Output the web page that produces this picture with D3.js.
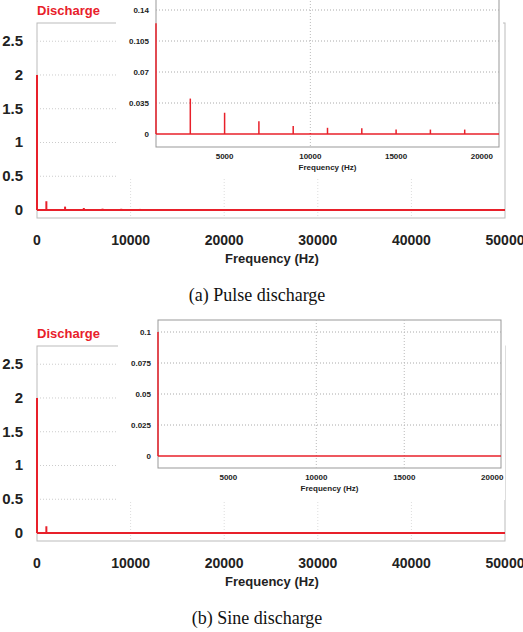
<!DOCTYPE html>
<html><head><meta charset="utf-8">
<script src="https://cdn.jsdelivr.net/npm/d3@7"></script>
<style>body{margin:0;background:#fff}text{font-family:Arial,"Liberation Sans",sans-serif}</style>
</head><body><svg id="c" width="523" height="632"></svg>
<script>
// pulse discharge spectrum (Hz, amplitude)
var pulseFreq = [0, 1000, 3000, 5000, 7000, 9000, 11000, 13000, 15000, 17000, 19000, 21000, 23000, 25000, 27000];
var pulseAmp  = [2.0, 0.13, 0.05, 0.03, 0.02, 0.018, 0.016, 0.015, 0.015, 0.014, 0.014, 0.013, 0.013, 0.013, 0.013];
var pulseInsetFreq = [1000, 3000, 5000, 7000, 9000, 10000, 11000, 13000, 15000, 17000, 19000];
var pulseInsetAmp  = [0.125, 0.04, 0.024, 0.0145, 0.009, 0.001, 0.007, 0.0065, 0.005, 0.005, 0.005];
// sine discharge spectrum
var sineFreq = [0, 1000];
var sineAmp  = [2.0, 0.1];
var sineInsetFreq = [1000];
var sineInsetAmp  = [0.1];

var mainXTicks = [0, 10000, 20000, 30000, 40000, 50000];
var mainYTicks = [0, 0.5, 1, 1.5, 2, 2.5];
var pulseInsetYTicks = [0, 0.035, 0.07, 0.105, 0.14];
var sineInsetYTicks = [0, 0.025, 0.05, 0.075, 0.1];
var insetXTicks = [5000, 10000, 15000, 20000];

var svg = d3.select("#c");
var red = "#e8202a";

function spikes(g, x, y, fr, am, w) {
  g.selectAll(null).data(fr).enter().append("line")
    .attr("x1", function(d){return x(d);}).attr("x2", function(d){return x(d);})
    .attr("y1", y(0)).attr("y2", function(d,i){return y(am[i]);})
    .attr("stroke", red).attr("stroke-width", w);
}

function panel(top, o) {
  var g = svg.append("g").attr("transform", "translate(0," + top + ")");
  // main plot
  var x = d3.scaleLinear().domain([0, 50000]).range([37, 505]);
  var y = d3.scaleLinear().domain([0, 2.77]).range([210, 23]);
  var bottom = 218;
  g.append("rect").attr("x", 37).attr("y", 23).attr("width", 468).attr("height", bottom - 23)
    .attr("fill", "none").attr("stroke", "#bbb");
  g.selectAll(null).data(mainYTicks.slice(1)).enter().append("line")
    .attr("x1", 37).attr("x2", 505).attr("y1", y).attr("y2", y)
    .attr("stroke", "#ccc").attr("stroke-dasharray", "1,2");
  g.selectAll(null).data(mainXTicks.slice(1, -1)).enter().append("line")
    .attr("x1", x).attr("x2", x).attr("y1", 23).attr("y2", bottom)
    .attr("stroke", "#ddd").attr("stroke-dasharray", "1,2");
  g.selectAll(null).data(mainYTicks).enter().append("text")
    .attr("x", 23).attr("y", function(d){return y(d) + 5;}).attr("text-anchor", "end")
    .attr("font-size", 15).attr("font-weight", "bold").attr("fill", "#222").text(function(d){return d;});
  g.selectAll(null).data(mainXTicks).enter().append("text")
    .attr("x", x).attr("y", 245).attr("text-anchor", "middle")
    .attr("font-size", 14).attr("font-weight", "bold").attr("fill", "#222").text(function(d){return d;});
  g.append("text").attr("x", 272).attr("y", 263).attr("text-anchor", "middle")
    .attr("font-size", 13).attr("font-weight", "bold").attr("fill", "#222").text("Frequency (Hz)");
  g.append("line").attr("x1", 37).attr("x2", 505).attr("y1", y(0)).attr("y2", y(0))
    .attr("stroke", red).attr("stroke-width", 2);
  spikes(g, x, y, o.freq, o.amp, 2);
  g.append("text").attr("x", 37).attr("y", 15).attr("font-size", 13).attr("font-weight", "bold")
    .attr("fill", red).text("Discharge");

  // inset
  var ig = g.append("g");
  var ix = d3.scaleLinear().domain([1000, o.xmax]).range([o.il, o.ir]);
  var iy = d3.scaleLinear().domain([0, o.ymax]).range([o.i0, o.itopv]);
  ig.append("rect").attr("x", o.il - 40).attr("y", o.it).attr("width", o.ir - o.il + 44).attr("height", o.ib - o.it + 32)
    .attr("fill", "#fff");
  ig.append("rect").attr("x", o.il).attr("y", o.it).attr("width", o.ir - o.il).attr("height", o.ib - o.it)
    .attr("fill", "none").attr("stroke", "#999");
  ig.selectAll(null).data(o.iyt.slice(1)).enter().append("line")
    .attr("x1", o.il).attr("x2", o.ir).attr("y1", iy).attr("y2", iy)
    .attr("stroke", "#aaa").attr("stroke-dasharray", "1,2");
  ig.selectAll(null).data(o.vgrid).enter().append("line")
    .attr("x1", ix).attr("x2", ix).attr("y1", o.it).attr("y2", o.ib)
    .attr("stroke", "#bbb").attr("stroke-dasharray", "1,2");
  ig.selectAll(null).data(o.iyt).enter().append("text")
    .attr("x", o.il - 7).attr("y", function(d){return iy(d) + 3;}).attr("text-anchor", "end")
    .attr("font-size", 8).attr("font-weight", "bold").attr("fill", "#222").text(function(d){return d;});
  ig.selectAll(null).data(insetXTicks).enter().append("text")
    .attr("x", ix).attr("y", o.ib + 12).attr("text-anchor", "middle")
    .attr("font-size", 8).attr("font-weight", "bold").attr("fill", "#222").text(function(d){return d;});
  ig.append("text").attr("x", (o.il + o.ir) / 2).attr("y", o.ib + 23).attr("text-anchor", "middle")
    .attr("font-size", 8).attr("font-weight", "bold").attr("fill", "#222").text("Frequency (Hz)");
  ig.append("line").attr("x1", o.il).attr("x2", o.ir).attr("y1", iy(0)).attr("y2", iy(0))
    .attr("stroke", red).attr("stroke-width", 1.5);
  spikes(ig, ix, iy, o.ifreq, o.iamp, 1.5);

  g.append("text").attr("x", 257).attr("y", 301).attr("text-anchor", "middle")
    .style("font-family", "'Liberation Serif','Times New Roman',serif")
    .attr("font-size", 18).attr("fill", "#111").text(o.caption);
}

panel(0, {freq: pulseFreq, amp: pulseAmp, ifreq: pulseInsetFreq, iamp: pulseInsetAmp,
  xmax: 21000, ymax: 0.14, iyt: pulseInsetYTicks, vgrid: [10000],
  il: 156, ir: 499, it: -2, ib: 147, i0: 134, itopv: 10, caption: "(a) Pulse discharge"});
panel(323, {freq: sineFreq, amp: sineAmp, ifreq: sineInsetFreq, iamp: sineInsetAmp,
  xmax: 20500, ymax: 0.1, iyt: sineInsetYTicks, vgrid: [10000, 15000],
  il: 158, ir: 501, it: -3, ib: 145, i0: 133, itopv: 9, caption: "(b) Sine discharge"});
</script></body></html>
